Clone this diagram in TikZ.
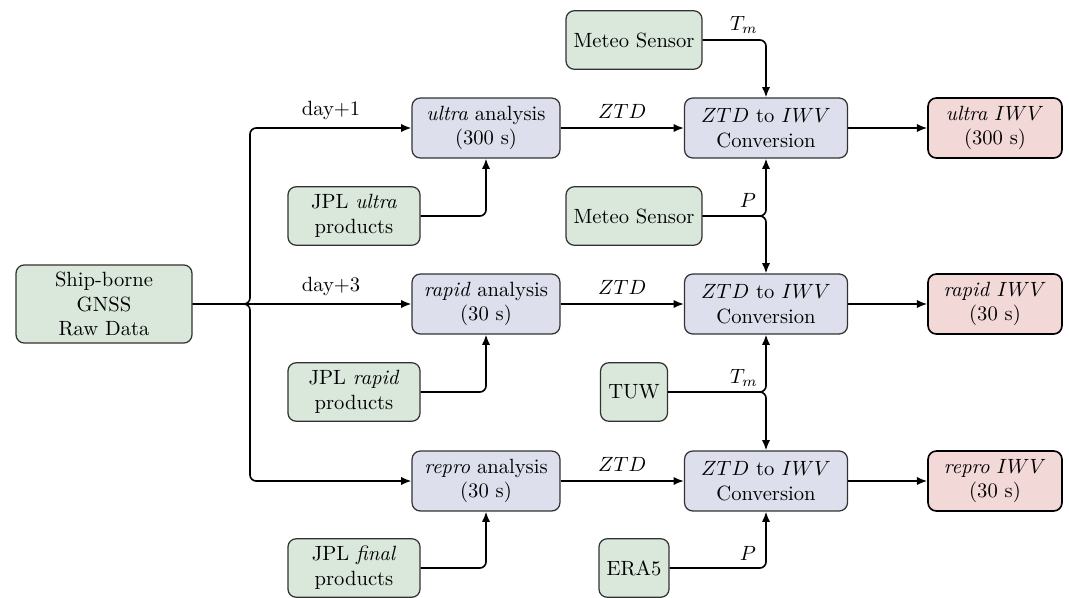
\documentclass[tikz,border=0pt]{standalone}
\usetikzlibrary{arrows.meta}
\definecolor{gfill}{RGB}{218,232,220}
\definecolor{bfill}{RGB}{221,223,236}
\definecolor{rfill}{RGB}{243,216,216}
\definecolor{bord}{RGB}{50,50,50}
\tikzset{
  box/.style={draw=bord, line width=0.6pt, rounded corners=4pt, align=center, inner sep=2pt},
  src/.style={box, fill=gfill, minimum height=28.4pt},
  proc/.style={box, fill=bfill, minimum width=71.8pt, minimum height=29.1pt},
  conv/.style={box, fill=bfill, minimum width=79.1pt, minimum height=29.1pt},
  outb/.style={box, fill=rfill, draw=black, line width=0.8pt, minimum width=65pt, minimum height=29.1pt},
  arr/.style={-{Latex[length=5pt,width=4pt]}, line width=0.8pt, rounded corners=3pt},
  lbl/.style={inner sep=1pt}
}
\begin{document}
\begin{tikzpicture}[x=0.4854pt, y=-0.4854pt]
\useasboundingbox (0,0) rectangle (1069,597);
% sources
\node[src, minimum width=85.4pt, minimum height=37.9pt] (ship) at (104,304) {Ship-borne\\GNSS\\Raw Data};
\node[src, minimum width=64.1pt] (jplu) at (354,216) {JPL \textit{ultra}\\products};
\node[src, minimum width=64.1pt] (jplr) at (354,392) {JPL \textit{rapid}\\products};
\node[src, minimum width=64.1pt] (jplf) at (354,568) {JPL \textit{final}\\products};
\node[src, minimum width=66pt] (met1) at (634,40) {Meteo Sensor};
\node[src, minimum width=66pt] (met2) at (634,216) {Meteo Sensor};
\node[src, minimum width=32.5pt] (tuw) at (634,392) {TUW};
\node[src, minimum width=34pt] (era) at (634,568) {ERA5};
% analyses
\node[proc] (ultra) at (486,128) {\textit{ultra} analysis\\(300 s)};
\node[proc] (rapid) at (486,304) {\textit{rapid} analysis\\(30 s)};
\node[proc] (repro) at (486,481) {\textit{repro} analysis\\(30 s)};
% conversions
\node[conv] (c1) at (766,128) {$ZTD$ to $IWV$\\Conversion};
\node[conv] (c2) at (766,304) {$ZTD$ to $IWV$\\Conversion};
\node[conv] (c3) at (766,481) {$ZTD$ to $IWV$\\Conversion};
% outputs
\node[outb] (o1) at (995,128) {\textit{ultra} $IWV$\\(300 s)};
\node[outb] (o2) at (995,304) {\textit{rapid} $IWV$\\(30 s)};
\node[outb] (o3) at (995,481) {\textit{repro} $IWV$\\(30 s)};
% branching
\coordinate (br) at (250,304);
\draw[arr] (ship.east) -- (br) |- (ultra.west);
\draw[arr] (ship.east) -- (rapid.west);
\draw[arr] (ship.east) -- (br) |- (repro.west);
\node[lbl] (d1) at (331,110) {day+1};
\node[lbl] (d3) at (331,286) {day+3};
% products
\draw[arr] (jplu.east) -| (ultra.south);
\draw[arr] (jplr.east) -| (rapid.south);
\draw[arr] (jplf.east) -| (repro.south);
% ZTD
\draw[arr] (ultra.east) -- (c1.west) node[midway, above=3pt, lbl] {$ZTD$};
\draw[arr] (rapid.east) -- (c2.west) node[midway, above=3pt, lbl] {$ZTD$};
\draw[arr] (repro.east) -- (c3.west) node[midway, above=3pt, lbl] {$ZTD$};
% outputs
\draw[arr] (c1.east) -- (o1.west);
\draw[arr] (c2.east) -- (o2.west);
\draw[arr] (c3.east) -- (o3.west);
% meteo
\draw[arr] (met1.east) -| (c1.north);
\draw[arr] (met2.east) -| (c1.south);
\draw[arr] (met2.east) -| (c2.north);
\draw[arr] (tuw.east) -| (c2.south);
\draw[arr] (tuw.east) -| (c3.north);
\draw[arr] (era.east) -| (c3.south);
\node[lbl] (l1) at (744,25) {$T_m$};
\node[lbl] (l2) at (748,200) {$P$};
\node[lbl] (l3) at (744,378) {$T_m$};
\node[lbl] (l4) at (748,553) {$P$};
\end{tikzpicture}
\end{document}
